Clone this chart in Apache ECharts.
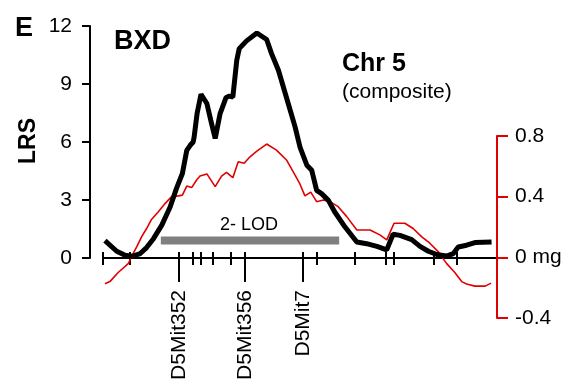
<!DOCTYPE html>
<html><head><meta charset="utf-8">
<script src="https://cdn.jsdelivr.net/npm/echarts@6/dist/echarts.min.js"></script>
<style>html,body{margin:0;padding:0;background:#fff}#c{width:581px;height:389px}</style>
</head><body><div id="c"></div>
<script>
// Position along chromosome 5 (cM-like units)
const lrsX = [0.4, 2.8, 4.5, 5.9, 7.6, 8.9, 10.3, 12.0, 13.7, 15.0, 16.2, 17.1, 17.8, 18.4, 18.6, 19.2, 20.0, 21.2, 22.0, 22.9, 23.9, 25.1, 25.8, 26.5, 27.3, 27.8, 29.3, 31.4, 33.4, 34.4, 35.8, 37.8, 39.2, 40.2, 41.6, 42.6, 43.6, 44.6, 46.0, 47.3, 49.4, 51.8, 53.8, 55.9, 57.9, 59.2, 60.6, 63.0, 64.7, 66.4, 68.1, 70.1, 71.5, 72.5, 74.2, 75.9, 79.3];
const lrsY = [0.9, 0.35, 0.14, 0.09, 0.23, 0.54, 1.0, 1.7, 2.64, 3.6, 4.37, 5.57, 5.83, 6.0, 6.26, 7.47, 8.47, 7.99, 7.12, 6.18, 7.47, 8.3, 8.37, 8.33, 10.23, 10.83, 11.23, 11.64, 11.3, 10.57, 9.71, 7.99, 6.78, 5.74, 4.8, 4.54, 3.5, 3.33, 2.98, 2.38, 1.6, 0.83, 0.74, 0.6, 0.42, 1.23, 1.17, 0.95, 0.6, 0.35, 0.18, 0.1, 0.23, 0.57, 0.66, 0.8, 0.83];
const effX = [0.4, 1.4, 3.1, 5.2, 6.0, 6.9, 7.9, 8.9, 9.9, 11.3, 12.7, 14.0, 15.4, 16.2, 17.1, 18.1, 19.1, 19.8, 21.2, 22.9, 24.2, 25.2, 26.5, 27.6, 28.8, 30.0, 31.4, 33.4, 35.4, 37.5, 38.8, 40.1, 41.2, 42.4, 43.6, 45.0, 46.3, 48.0, 49.7, 51.8, 54.5, 56.5, 57.9, 59.4, 61.6, 63.3, 65.0, 66.7, 68.4, 70.1, 71.8, 73.2, 74.2, 75.9, 78.0, 79.2];
const effY = [-0.174, -0.16, -0.10, -0.04, 0.016, 0.07, 0.137, 0.19, 0.25, 0.30, 0.356, 0.40, 0.405, 0.41, 0.47, 0.46, 0.51, 0.536, 0.55, 0.466, 0.536, 0.56, 0.525, 0.63, 0.62, 0.663, 0.70, 0.747, 0.707, 0.64, 0.565, 0.49, 0.405, 0.43, 0.367, 0.378, 0.367, 0.334, 0.27, 0.18, 0.18, 0.148, 0.115, 0.225, 0.225, 0.19, 0.137, 0.093, 0.038, -0.04, -0.10, -0.16, -0.176, -0.19, -0.19, -0.17];
const markerPos = [0, 5.4, 15.5, 18.4, 19.9, 22.4, 26.1, 29.0, 40.8, 43.6, 51.4, 57.8, 59.4, 67.4, 72.2];
const namedMarkerPos = [15.5, 29.0, 40.8];
const namedMarkerLabels = ['D5Mit352', 'D5Mit356', 'D5Mit7'];
const lodX = [11.8, 48.2];
const lodY = [0.9, 0.9];
const lodLabel = '2- LOD';
const lrsTicks = [0, 3, 6, 9, 12];
const effTicks = [-0.4, 0, 0.4, 0.8];
const effTickLabels = ['-0.4', '0 mg', '0.4', '0.8'];

const FONT = '"Liberation Sans", Arial, Helvetica, sans-serif';
const RED = '#e00000';
const shortMarkers = markerPos.filter(v => namedMarkerPos.indexOf(v) < 0);
const zip = (a, b) => a.map((v, i) => [v, b[i]]);
const chart = echarts.init(document.getElementById('c'), null, {renderer: 'canvas'});
const xBase = {type: 'value', min: 0, max: 80, position: 'bottom', splitLine: {show: false}};
const baseLine = {show: true, onZero: false, lineStyle: {color: '#000', width: 2}};
chart.setOption({
  animation: false,
  backgroundColor: '#fff',
  textStyle: {fontFamily: FONT},
  grid: [
    {left: 103, top: 26, width: 392, height: 232},
    {left: 103, top: 136, width: 392, height: 182}
  ],
  xAxis: [
    Object.assign({}, xBase, {gridIndex: 0,
      axisLine: baseLine,
      axisTick: {show: true, inside: true, length: 6, customValues: markerPos, lineStyle: {color: '#000', width: 2}},
      axisLabel: {show: false}}),
    Object.assign({}, xBase, {gridIndex: 0,
      axisLine: baseLine,
      axisTick: {show: true, inside: false, length: 7, customValues: shortMarkers, lineStyle: {color: '#000', width: 2}},
      axisLabel: {show: false}}),
    Object.assign({}, xBase, {gridIndex: 0,
      axisLine: baseLine,
      axisTick: {show: true, inside: false, length: 24, customValues: namedMarkerPos, lineStyle: {color: '#000', width: 2}},
      axisLabel: {show: true, customValues: namedMarkerPos, rotate: 90, margin: 32, fontSize: 21, color: '#000', fontFamily: FONT,
        formatter: v => { const i = namedMarkerPos.findIndex(p => Math.abs(p - v) < 1e-6); return i >= 0 ? namedMarkerLabels[i] : ''; }}}),
    Object.assign({}, xBase, {gridIndex: 1, show: false})
  ],
  yAxis: [
    {gridIndex: 0, type: 'value', min: 0, max: 12, interval: 3, position: 'left', offset: 13,
      axisLine: {show: true, onZero: false, lineStyle: {color: '#000', width: 2}},
      axisTick: {show: true, length: 8, customValues: lrsTicks, lineStyle: {color: '#000', width: 2}},
      axisLabel: {margin: 18, fontSize: 21, color: '#000', fontFamily: FONT, customValues: lrsTicks},
      splitLine: {show: false}},
    {gridIndex: 1, type: 'value', min: -0.4, max: 0.8, interval: 0.4, position: 'right', offset: 2,
      axisLine: {show: true, onZero: false, lineStyle: {color: RED, width: 2}},
      axisTick: {show: true, length: 11, customValues: effTicks, lineStyle: {color: RED, width: 2}},
      axisLabel: {margin: 18, fontSize: 21, color: '#000', fontFamily: FONT, customValues: effTicks,
        formatter: v => { const i = effTicks.findIndex(p => Math.abs(p - v) < 1e-6); return i >= 0 ? effTickLabels[i] : ''; }},
      splitLine: {show: false}}
  ],
  series: [
    {type: 'line', xAxisIndex: 3, yAxisIndex: 1, data: zip(effX, effY), showSymbol: false, symbol: 'none',
      lineStyle: {color: RED, width: 1.6}, z: 2},
    {type: 'line', xAxisIndex: 0, yAxisIndex: 0, data: zip(lodX, lodY), showSymbol: false, symbol: 'none',
      lineStyle: {color: '#808080', width: 8, cap: 'butt'}, z: 3},
    {type: 'line', xAxisIndex: 0, yAxisIndex: 0, data: zip(lrsX, lrsY), showSymbol: false, symbol: 'none',
      lineStyle: {color: '#000', width: 5}, z: 4}
  ],
  graphic: [
    {type: 'text', style: {text: 'E', x: 15, y: 29, font: 'bold 27px ' + FONT, fill: '#000', textVerticalAlign: 'middle'}},
    {type: 'text', style: {text: 'BXD', x: 114, y: 42, font: 'bold 27px ' + FONT, fill: '#000', textVerticalAlign: 'middle'}},
    {type: 'text', style: {text: 'Chr 5', x: 342, y: 64, font: 'bold 25px ' + FONT, fill: '#000', textVerticalAlign: 'middle'}},
    {type: 'text', style: {text: '(composite)', x: 342, y: 92, font: '21px ' + FONT, fill: '#000', textVerticalAlign: 'middle'}},
    {type: 'text', style: {text: lodLabel, x: 249, y: 225, font: '18px ' + FONT, fill: '#000', textAlign: 'center', textVerticalAlign: 'middle'}},
    {type: 'text', x: 29, y: 141, rotation: Math.PI / 2, style: {text: 'LRS', x: 0, y: 0, font: 'bold 23px ' + FONT, fill: '#000', textAlign: 'center', textVerticalAlign: 'middle'}}
  ]
});
</script></body></html>
